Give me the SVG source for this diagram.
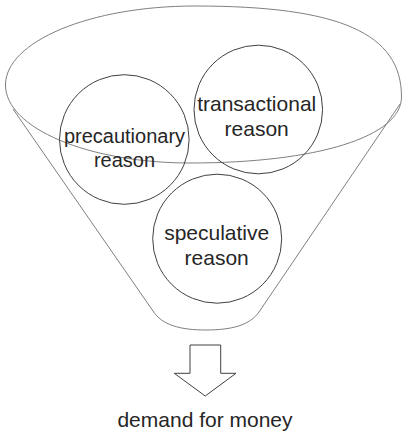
<svg xmlns="http://www.w3.org/2000/svg" width="402" height="432" viewBox="0 0 402 432">
  <style>
    .funnel { fill: none; stroke: #808080; stroke-width: 1; }
    .circle { fill: none; stroke: #404040; stroke-width: 1; }
    .label { font-family: "Liberation Sans", Arial, sans-serif; fill: #262626; text-anchor: middle; }
    .arrow { fill: #ffffff; stroke: #404040; stroke-width: 1; }
  </style>
  <rect width="402" height="432" fill="#ffffff"/>
  <g id="funnel">
    <path class="funnel" d="M 13,109 L 153,311 C 162,325 180,330 206,330 C 232,330 250,325 259,312 L 400,104"/>
    <path class="funnel" d="M 5.5,85 C 5.5,41.4 90.3,6 195,6 C 340,6 401.5,33.3 401.5,97 C 401.5,136.6 317.2,163 190,163 C 88.1,163 5.5,128.1 5.5,85 Z"/>
  </g>
  <g id="precautionary">
    <circle class="circle" cx="124.3" cy="139.5" r="64.8"/>
    <text class="label" font-size="20" x="124.5" y="142.5">precautionary</text>
    <text class="label" font-size="20" x="124.5" y="166.5">reason</text>
  </g>
  <g id="transactional">
    <circle class="circle" cx="258.3" cy="109.5" r="64.3"/>
    <text class="label" font-size="21" x="256.7" y="110.5">transactional</text>
    <text class="label" font-size="21" x="256.7" y="136">reason</text>
  </g>
  <g id="speculative">
    <circle class="circle" cx="217.2" cy="238.7" r="64.5"/>
    <text class="label" font-size="21" x="216.7" y="239.5">speculative</text>
    <text class="label" font-size="21" x="216.7" y="265">reason</text>
  </g>
  <g id="connectors">
    <polygon class="arrow" points="190,345 220.7,345 220.7,373.3 236,373.3 205.2,396 174.3,373.3 190,373.3"/>
  </g>
  <g id="result">
    <text class="label" font-size="21" x="205" y="426.5">demand for money</text>
  </g>
</svg>
